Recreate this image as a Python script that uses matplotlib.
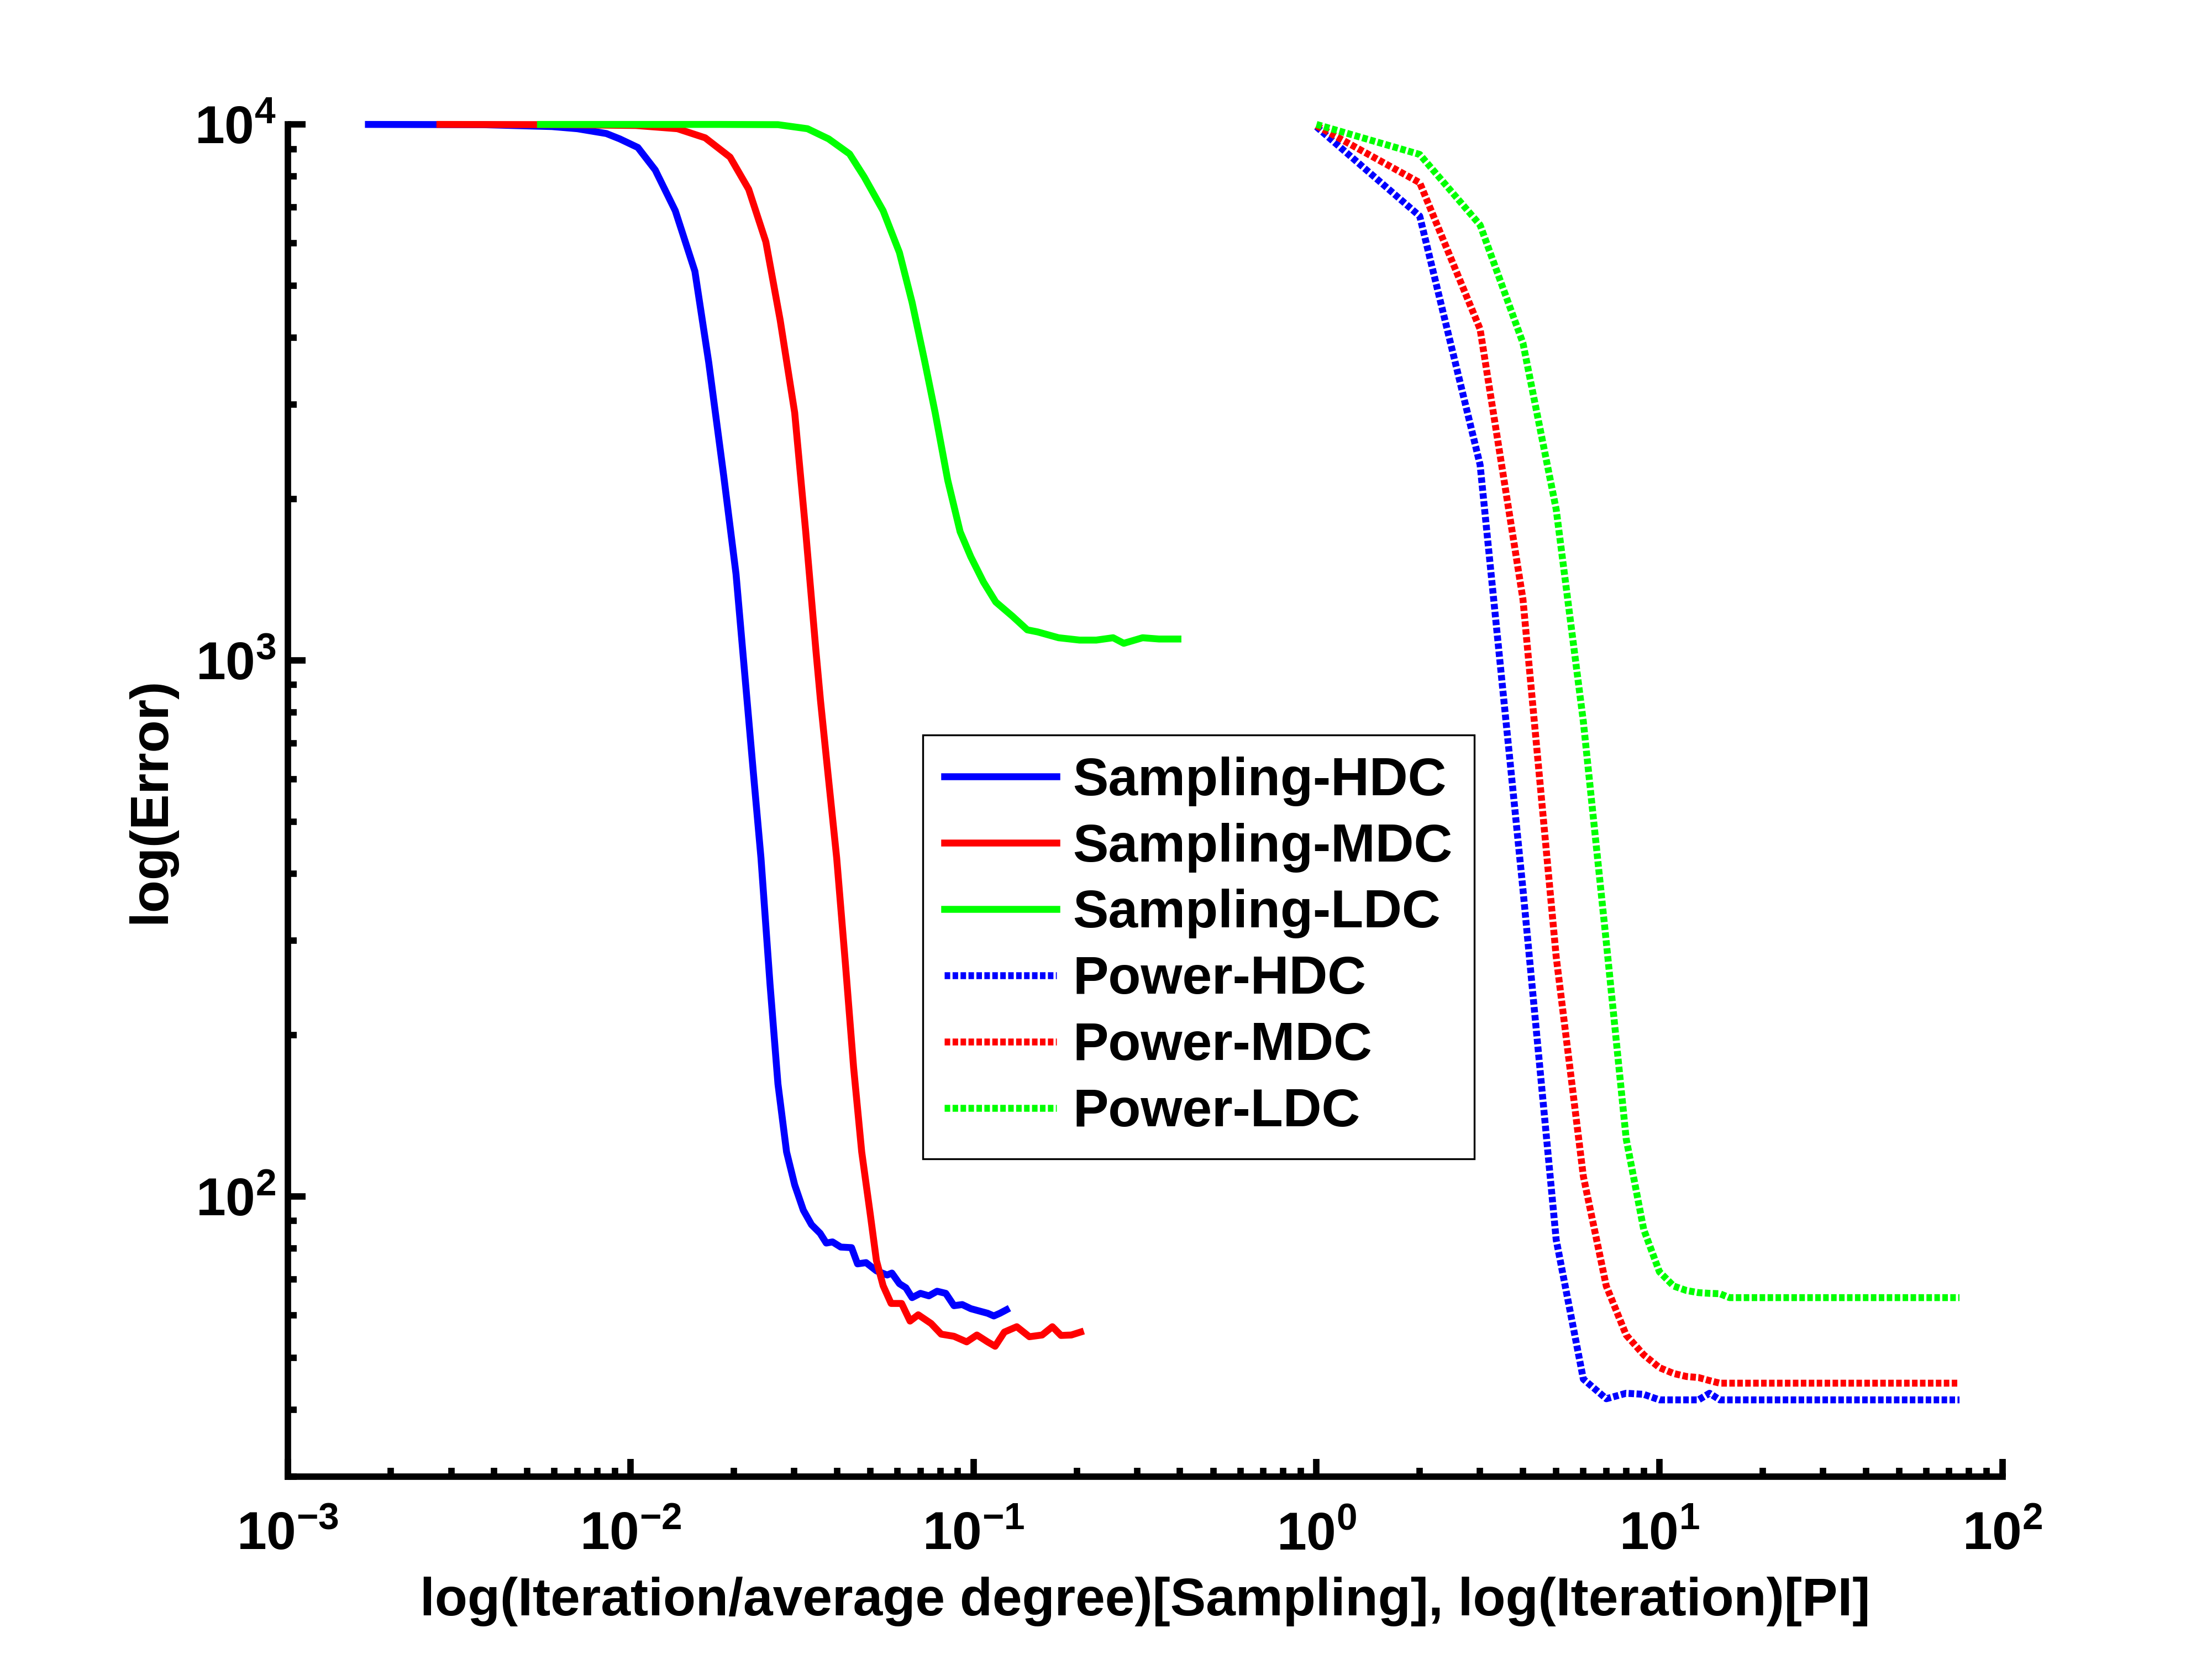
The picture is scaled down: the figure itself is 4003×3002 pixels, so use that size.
import matplotlib
matplotlib.use('Agg')
import matplotlib.pyplot as plt
from matplotlib.ticker import LogLocator, NullFormatter

# fonts: bold Arial-like everywhere, incl. the 10^n tick labels
plt.rcParams['font.family'] = ['Liberation Sans', 'DejaVu Sans']
plt.rcParams['font.weight'] = 'bold'
plt.rcParams['mathtext.fontset'] = 'custom'
plt.rcParams['mathtext.rm'] = 'Liberation Sans:bold'
plt.rcParams['mathtext.bf'] = 'Liberation Sans:bold'
plt.rcParams['mathtext.default'] = 'bf'
plt.rcParams['axes.unicode_minus'] = False

# Sampling curves: x = iteration / average degree
samp_hdc_x = [0.00172, 0.0037, 0.0059, 0.0070, 0.0085, 0.0093, 0.0105, 0.0118, 0.0135, 0.0154,
              0.0169, 0.0187, 0.0203, 0.0228, 0.0240, 0.0255, 0.0269, 0.0285, 0.0301, 0.0319,
              0.0337, 0.0357, 0.0372, 0.0388, 0.0410, 0.0441, 0.0459, 0.0486, 0.0521, 0.0560,
              0.0578, 0.0608, 0.0635, 0.0662, 0.0700, 0.0741, 0.0783, 0.0830, 0.0877, 0.0927,
              0.0982, 0.1038, 0.1099, 0.1146, 0.1194, 0.1247]
samp_hdc_y = [10000, 9990, 9908, 9817, 9616, 9397, 9057, 8222, 6902, 5321,
              3597, 2203, 1449, 618, 428, 249, 162, 121, 105, 94.2,
              88.5, 85.3, 81.8, 82.2, 80.4, 80.2, 74.8, 75.2, 72.6, 71.3,
              71.9, 68.7, 67.5, 64.7, 65.9, 65.2, 66.5, 65.9, 62.5, 62.8,
              61.7, 61.1, 60.5, 59.8, 60.5, 61.4]

samp_mdc_x = [0.00278, 0.0062, 0.01035, 0.0137, 0.0165, 0.0195, 0.0221, 0.0248, 0.0273, 0.0301,
              0.0324, 0.0347, 0.0358, 0.0376, 0.0399, 0.0423, 0.0447, 0.0472, 0.0500, 0.0521,
              0.0545, 0.0575, 0.0617, 0.0653, 0.0690, 0.0752, 0.0805, 0.0877, 0.0955, 0.1023,
              0.1099, 0.1156, 0.1230, 0.1337, 0.1455, 0.1585, 0.1698, 0.1799, 0.1928, 0.2051]
samp_mdc_y = [10000, 9990, 9954, 9817, 9441, 8690, 7568, 6039, 4315, 2897,
              1742, 1045, 840, 618, 428, 272, 174, 121, 92.5, 75.9,
              68.1, 63.1, 63.1, 58.5, 60.1, 57.9, 55.3, 54.8, 53.5, 55.1,
              53.5, 52.5, 55.8, 57.1, 54.7, 55.1, 57.1, 55.0, 55.1, 55.8]

samp_ldc_x = [0.00546, 0.0182, 0.0269, 0.0328, 0.0378, 0.0435, 0.0480, 0.0545, 0.0608, 0.0662,
              0.0721, 0.0773, 0.0841, 0.0914, 0.0982, 0.1069, 0.1161, 0.1300, 0.1435, 0.1538,
              0.1770, 0.2037, 0.2280, 0.2553, 0.2742, 0.3112, 0.3475, 0.3945]
samp_ldc_y = [10000, 10000, 9990, 9817, 9397, 8810, 7980, 6902, 5768, 4656,
              3606, 2897, 2168, 1738, 1560, 1400, 1285, 1208, 1140, 1130,
              1102, 1091, 1091, 1102, 1076, 1102, 1096, 1096]

# Power iteration curves: x = iteration (flat after 16 up to 75)
power_iter = [1, 2, 3, 4, 5, 6, 7, 8, 9, 10, 11, 12, 13, 14, 15, 16, 75]
power_hdc = [9900, 6745, 2317, 374, 83, 45.6, 41.9, 42.9, 42.7, 41.7, 41.7, 41.7, 41.7, 42.9, 41.7, 41.7, 41.7]
power_mdc = [9950, 7785, 4150, 1300, 280, 109, 68, 55.1, 50.6, 47.9, 46.7, 46.1, 45.9, 45.3, 44.8, 44.8, 44.8]
power_ldc = [10000, 8790, 6491, 3909, 1914, 769, 298, 128, 86.7, 72.3, 68.0, 66.7, 66.1, 65.9, 65.8, 64.7, 64.7]

BLUE = '#0000ff'
RED = '#ff0000'
GREEN = '#00ff00'
FS = 23.2
LW = 3.0
DOTTED = (0, (0.8, 0.35))

fig = plt.figure(figsize=(4004 / 300, 3002 / 300), dpi=300)
ax = fig.add_axes([0.13, 0.11, 0.775, 0.815])
ax.set_xscale('log')
ax.set_yscale('log')

ax.plot(samp_hdc_x, samp_hdc_y, color=BLUE, lw=LW, label='Sampling-HDC', clip_on=False)
ax.plot(samp_mdc_x, samp_mdc_y, color=RED, lw=LW, label='Sampling-MDC', clip_on=False)
ax.plot(samp_ldc_x, samp_ldc_y, color=GREEN, lw=LW, label='Sampling-LDC', clip_on=False)
ax.plot(power_iter, power_hdc, color=BLUE, lw=LW, ls=DOTTED, dash_capstyle='butt',
        label='Power-HDC', clip_on=False)
ax.plot(power_iter, power_mdc, color=RED, lw=LW, ls=DOTTED, dash_capstyle='butt',
        label='Power-MDC', clip_on=False)
ax.plot(power_iter, power_ldc, color=GREEN, lw=LW, ls=DOTTED, dash_capstyle='butt',
        label='Power-LDC', clip_on=False)

ax.set_xlim(1e-3, 1e2)
ax.set_ylim(30, 1e4)

for side in ['top', 'right']:
    ax.spines[side].set_visible(False)
for side in ['left', 'bottom']:
    ax.spines[side].set_linewidth(2.8)

ax.xaxis.set_minor_locator(LogLocator(base=10, subs=range(2, 10), numticks=50))
ax.yaxis.set_minor_locator(LogLocator(base=10, subs=range(2, 10), numticks=50))
ax.xaxis.set_minor_formatter(NullFormatter())
ax.yaxis.set_minor_formatter(NullFormatter())
ax.tick_params(which='both', direction='in', width=2.8, labelsize=FS)
ax.tick_params(which='major', length=7.7)
ax.tick_params(which='minor', length=3.8)
ax.tick_params(axis='x', pad=15)
ax.tick_params(axis='y', pad=5)

ax.set_xlabel('log(Iteration/average degree)[Sampling], log(Iteration)[PI]',
              fontsize=FS, fontweight='bold', labelpad=7)
ax.set_ylabel('log(Error)', fontsize=FS, fontweight='bold', labelpad=8)

leg = ax.legend(loc='upper left', bbox_to_anchor=(0.4171, 0.557), bbox_transform=fig.transFigure,
                borderaxespad=0, prop={'weight': 'bold', 'size': FS}, handlelength=2.1,
                handletextpad=0.31, labelspacing=0.31, borderpad=0.4,
                fancybox=False, framealpha=1, edgecolor='black')
leg.get_frame().set_linewidth(0.8)

fig.savefig('out.png', dpi=300)
